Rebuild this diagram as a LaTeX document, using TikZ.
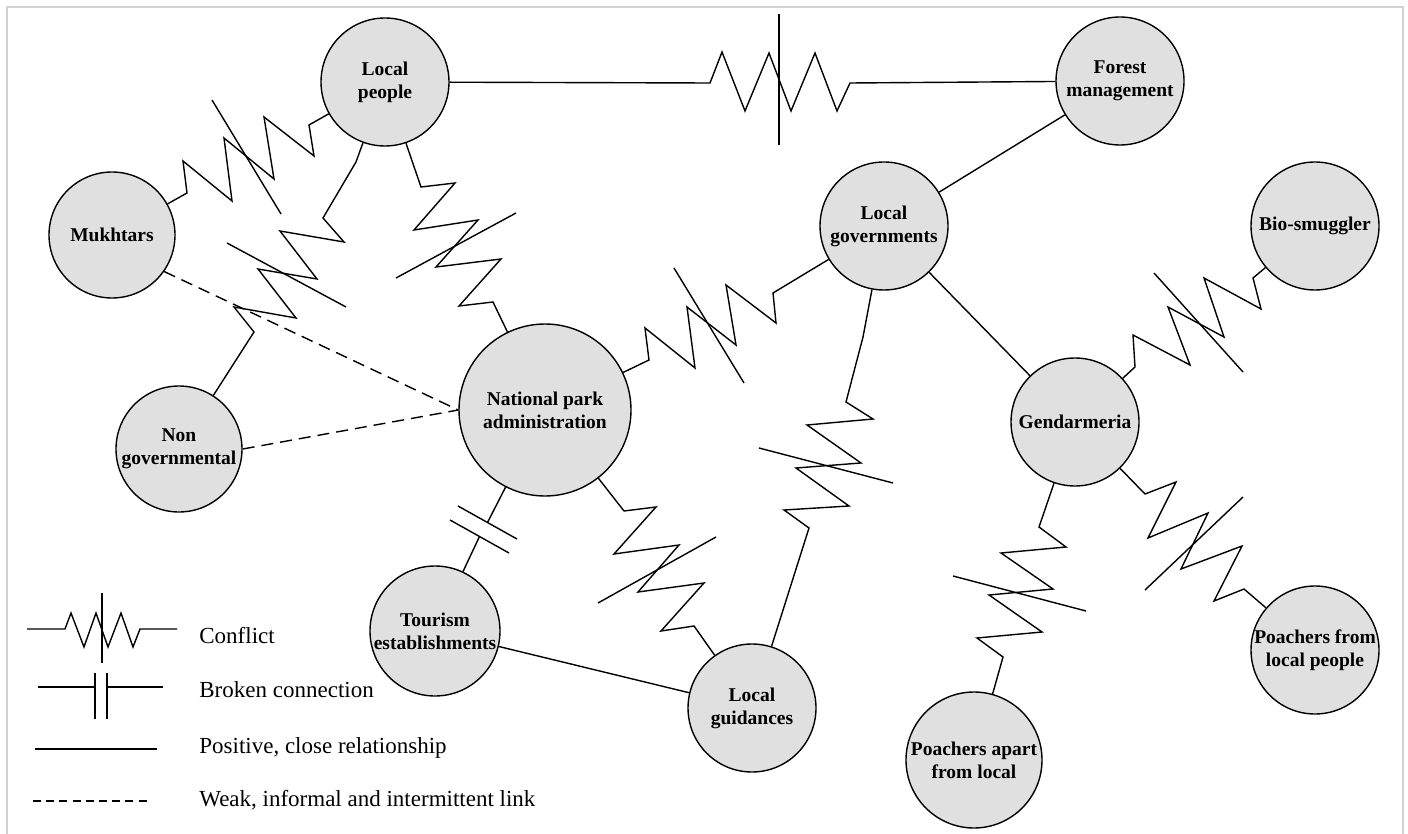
\documentclass[tikz,border=0pt]{standalone}
\usepackage{fontspec}
\setmainfont{Liberation Serif}
\definecolor{nodefill}{RGB}{224,224,224}
\definecolor{framegray}{RGB}{210,210,210}
\newcommand{\actorfont}{\fontsize{9.75}{11.5}\selectfont\bfseries}
\newcommand{\legendfont}{\fontsize{11.5}{13}\selectfont}
\begin{document}
\begin{tikzpicture}[x=0.5pt,y=-0.5pt,
  actor/.style={circle,draw=black,line width=0.7pt,fill=nodefill,inner sep=0pt,align=center,font=\actorfont},
  link/.style={line width=0.7pt,line join=miter,miter limit=4},
  weak/.style={link,dash pattern=on 6pt off 3.5pt},
  weaklegend/.style={link,dash pattern=on 4pt off 2.6pt},
  crossbar/.style={line width=0.7pt},
  legendtext/.style={anchor=west,inner sep=0pt,font=\legendfont}]
\useasboundingbox (0,0) rectangle (1408,834);
\draw[framegray,line width=0.6pt] (7,834) -- (7,7) -- (1403,7) -- (1403,834);

% actors
\node[actor,minimum size=64pt] (lp)  at (385,82)  {Local\\people};
\node[actor,minimum size=63pt] (mk)  at (112,235) {Mukhtars};
\node[actor,minimum size=63pt] (ng)  at (179,449) {Non\\governmental};
\node[actor,minimum size=86pt] (np)  at (545,410) {National park\\administration};
\node[actor,minimum size=64pt] (lg)  at (884,226) {Local\\governments};
\node[actor,minimum size=64pt] (fm)  at (1120,81) {Forest\\management};
\node[actor,minimum size=64pt] (bs)  at (1315,226) {Bio-smuggler};
\node[actor,minimum size=64pt] (gd)  at (1075,422) {Gendarmeria};
\node[actor,minimum size=65pt] (te)  at (435,631) {Tourism\\establishments};
\node[actor,minimum size=64pt] (lgu) at (752,708) {Local\\guidances};
\node[actor,minimum size=68pt] (pa)  at (974,760) {Poachers apart\\from local};
\node[actor,minimum size=64pt] (pl)  at (1315,650) {Poachers from\\local people};

% conflict: local people - forest management
\draw[link] (lp) -- (710,83) -- (722,52) -- (745,111) -- (769,53) -- (791,111) -- (815,53) -- (837,111) -- (850,83) -- (fm);
\draw[crossbar] (779,14) -- (779,145);
% conflict: mukhtars - local people
\draw[link] (mk) -- (187,193) -- (183,161) -- (232,201) -- (224,138) -- (274,179) -- (264,117) -- (314,156) -- (309,125) -- (lp);
\draw[crossbar] (212,100) -- (281,214);
% conflict: local people - non governmental
\draw[link] (lp) -- (356,162) -- (323,218) -- (344,242) -- (280,231) -- (317,279) -- (258,269) -- (296,318) -- (234,307) -- (254,332) -- (ng);
\draw[crossbar] (227,243) -- (346,307);
% conflict: local people - national park
\draw[link] (lp) -- (421,187) -- (455,183) -- (414,230) -- (478,220) -- (436,267) -- (501,259) -- (459,306) -- (493,302) -- (np);
\draw[crossbar] (516,213) -- (396,278);
% conflict: national park - local governments
\draw[link] (np) -- (649,360) -- (645,328) -- (695,368) -- (687,307) -- (736,345) -- (726,285) -- (776,323) -- (773,293) -- (lg);
\draw[crossbar] (674,268) -- (744,383);
% conflict: local governments - local guidances
\draw[link] (lg) -- (863,337) -- (846,402) -- (873,419) -- (807,425) -- (861,463) -- (796,468) -- (849,506) -- (784,510) -- (809,528) -- (lgu);
\draw[crossbar] (759,448) -- (893,483);
% conflict: national park - local guidances
\draw[link] (np) -- (624,511) -- (656,507) -- (614,554) -- (679,545) -- (638,592) -- (704,583) -- (661,631) -- (694,626) -- (lgu);
\draw[crossbar] (716,537) -- (598,603);
% conflict: gendarmeria - bio-smuggler
\draw[link] (gd) -- (1135,367) -- (1133,335) -- (1190,365) -- (1168,307) -- (1224,337) -- (1204,278) -- (1261,309) -- (1253,278) -- (bs);
\draw[crossbar] (1154,273) -- (1243,372);
% conflict: gendarmeria - poachers apart from local
\draw[link] (gd) -- (1039,527) -- (1066,547) -- (1001,553) -- (1053,589) -- (989,595) -- (1042,632) -- (977,638) -- (1003,657) -- (pa);
\draw[crossbar] (953,576) -- (1086,611);
% conflict: gendarmeria - poachers from local people
\draw[link] (gd) -- (1145,494) -- (1176,482) -- (1148,538) -- (1208,513) -- (1181,569) -- (1242,546) -- (1214,601) -- (1244,589) -- (pl);
\draw[crossbar] (1243,497) -- (1145,590);

% broken connection: national park - tourism
\coordinate (bk1) at (487.5,522.5);
\coordinate (bk2) at (479.5,536.5);
\draw[link] (np) -- (bk1);
\draw[link] (bk2) -- (te);
\draw[crossbar] (458,506) -- (517,539);
\draw[crossbar] (450,520) -- (509,553);

% positive links
\draw[link] (lg) -- (fm);
\draw[link] (lg) -- (gd);
\draw[link] (te) -- (lgu);

% weak links
\draw[weak] (mk.-35) -- (np.west);
\draw[weak] (ng.east) -- (np.west);

% legend
\draw[link] (27,629) -- (65,629) -- (71,613) -- (84,647) -- (96,613) -- (108,647) -- (121,613) -- (133,647) -- (140,629) -- (177,629);
\draw[crossbar] (102,593) -- (102,663);
\node[legendtext] (lt1) at (199,636) {Conflict};
\draw[link] (38,687) -- (95,687);
\draw[link] (107,687) -- (163,687);
\draw[crossbar] (95,673) -- (95,719);
\draw[crossbar] (107,673) -- (107,719);
\node[legendtext] (lt2) at (199,690) {Broken connection};
\draw[link] (35,749) -- (157,749);
\node[legendtext] (lt3) at (199,748) {Positive, close relationship};
\draw[weaklegend] (33,801) -- (148,801);
\node[legendtext] (lt4) at (199,800) {Weak, informal and intermittent link};
\end{tikzpicture}
\end{document}
